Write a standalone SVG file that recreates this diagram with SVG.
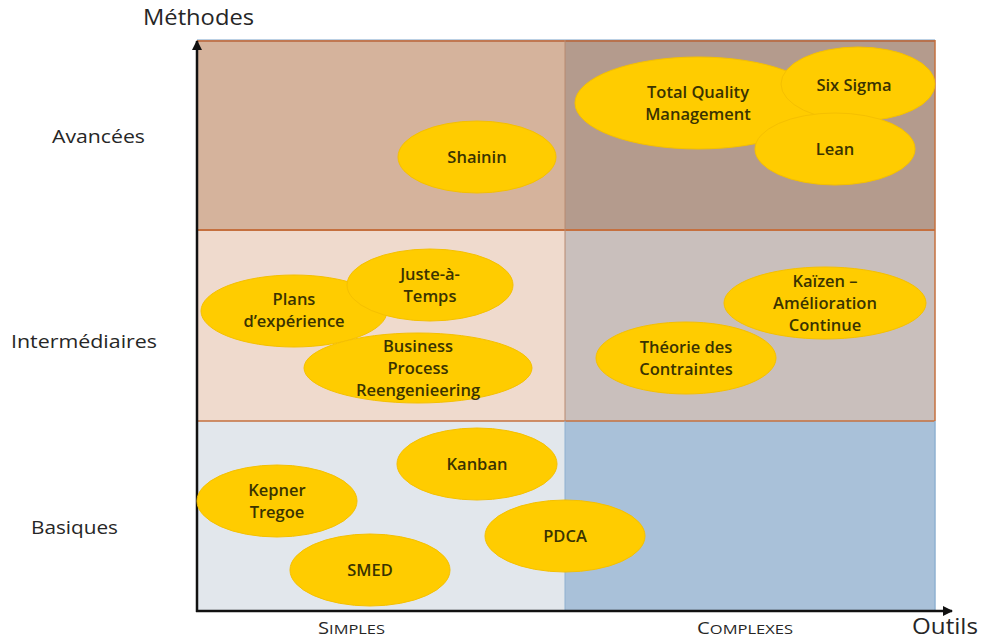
<svg xmlns="http://www.w3.org/2000/svg" width="983" height="640" viewBox="0 0 983 640">
<defs>
<style>
.lbl{font-family:"Open Sans","Liberation Sans",sans-serif;fill:#262626;}
.n{font-family:"Open Sans","Liberation Sans",sans-serif;font-size:16.5px;font-weight:600;fill:#3a3300;text-anchor:middle;}
.e{fill:#FFCC00;stroke:#F5C000;stroke-width:1;}
.axis{stroke:#111;stroke-width:2.5;fill:none;}
</style>
<marker id="arr" viewBox="0 0 10 10" refX="9" refY="5" markerWidth="4" markerHeight="4" orient="auto" markerUnits="strokeWidth">
<path d="M0,0 L10,5 L0,10 z" fill="#111"/>
</marker>
</defs>
<rect width="983" height="640" fill="#fff"/>
<g id="grid">
<rect x="197" y="40" width="368" height="190" fill="#D5B39C"/>
<rect x="565" y="40" width="370" height="190" fill="#B49B8D"/>
<rect x="197" y="230" width="368" height="191" fill="#EFDACD"/>
<rect x="565" y="230" width="370" height="191" fill="#C9BFBC"/>
<rect x="197" y="421" width="368" height="190" fill="#E2E7EC"/>
<rect x="565" y="421" width="370" height="190" fill="#A9C1D9"/>
<line x1="197" y1="39.5" x2="935" y2="39.5" stroke="#BBD0E4" stroke-width="1"/>
<line x1="197" y1="41" x2="935" y2="41" stroke="#B9653A" stroke-width="1.5"/>
<line x1="197" y1="230" x2="935" y2="230" stroke="#C5703F" stroke-width="2"/>
<line x1="197" y1="421" x2="935" y2="421" stroke="#C5703F" stroke-width="1.5"/>
<line x1="565" y1="40" x2="565" y2="421" stroke="#B88A70" stroke-width="1"/>
<line x1="565" y1="421" x2="565" y2="611" stroke="#8FB0D0" stroke-width="1"/>
<line x1="935" y1="40" x2="935" y2="421" stroke="#C5703F" stroke-width="1.5"/>
<line x1="935" y1="421" x2="935" y2="611" stroke="#8FB0D0" stroke-width="1.5"/>
</g>
<g id="connectors">
<line class="axis" x1="197" y1="612" x2="197" y2="41" marker-end="url(#arr)"/>
<line class="axis" x1="196" y1="611" x2="952" y2="611" marker-end="url(#arr)"/>
</g>
<g id="labels">
<text class="lbl" x="143" y="25" font-size="21" textLength="111" lengthAdjust="spacingAndGlyphs">Méthodes</text>
<text class="lbl" x="912" y="634" font-size="21" textLength="66" lengthAdjust="spacingAndGlyphs">Outils</text>
<text class="lbl" x="52" y="143" font-size="18" textLength="93" lengthAdjust="spacingAndGlyphs">Avancées</text>
<text class="lbl" x="11" y="348" font-size="18" textLength="146" lengthAdjust="spacingAndGlyphs">Intermédiaires</text>
<text class="lbl" x="31" y="534" font-size="18" textLength="87" lengthAdjust="spacingAndGlyphs">Basiques</text>
<text class="lbl" x="318" y="634" font-size="16" textLength="67" lengthAdjust="spacingAndGlyphs">S<tspan font-size="13">IMPLES</tspan></text>
<text class="lbl" x="697" y="634" font-size="16" textLength="96" lengthAdjust="spacingAndGlyphs">C<tspan font-size="13">OMPLEXES</tspan></text>
</g>
<g id="shainin"><ellipse class="e" cx="477" cy="157" rx="79" ry="36"/><text class="n" x="477" y="163">Shainin</text></g>
<g id="tqm"><ellipse class="e" cx="698" cy="103" rx="123" ry="46"/><text class="n" x="698" y="98">Total Quality</text><text class="n" x="698" y="120">Management</text></g>
<g id="sixsigma"><ellipse class="e" cx="858" cy="84" rx="77" ry="37"/><text class="n" x="854" y="91">Six Sigma</text></g>
<g id="lean"><ellipse class="e" cx="835" cy="149" rx="80" ry="36"/><text class="n" x="835" y="155">Lean</text></g>
<g id="plans"><ellipse class="e" cx="294" cy="311" rx="93" ry="36"/><text class="n" x="294" y="305">Plans</text><text class="n" x="294" y="327">d’expérience</text></g>
<g id="jat"><ellipse class="e" cx="430" cy="285" rx="83" ry="36"/><text class="n" x="430" y="280">Juste-à-</text><text class="n" x="430" y="302">Temps</text></g>
<g id="bpr"><ellipse class="e" cx="418" cy="368" rx="114" ry="35"/><text class="n" x="418" y="352">Business</text><text class="n" x="418" y="374">Process</text><text class="n" x="418" y="396">Reengenieering</text></g>
<g id="kaizen"><ellipse class="e" cx="825" cy="303" rx="101" ry="36"/><text class="n" x="825" y="287">Kaïzen –</text><text class="n" x="825" y="309">Amélioration</text><text class="n" x="825" y="331">Continue</text></g>
<g id="toc"><ellipse class="e" cx="686" cy="358" rx="90" ry="36"/><text class="n" x="686" y="353">Théorie des</text><text class="n" x="686" y="375">Contraintes</text></g>
<g id="kanban"><ellipse class="e" cx="477" cy="464" rx="80" ry="36"/><text class="n" x="477" y="470">Kanban</text></g>
<g id="kepner"><ellipse class="e" cx="277" cy="501" rx="80" ry="36"/><text class="n" x="277" y="496">Kepner</text><text class="n" x="277" y="518">Tregoe</text></g>
<g id="smed"><ellipse class="e" cx="370" cy="570" rx="80" ry="36"/><text class="n" x="370" y="576">SMED</text></g>
<g id="pdca"><ellipse class="e" cx="565" cy="536" rx="80" ry="36"/><text class="n" x="565" y="542">PDCA</text></g>
</svg>
